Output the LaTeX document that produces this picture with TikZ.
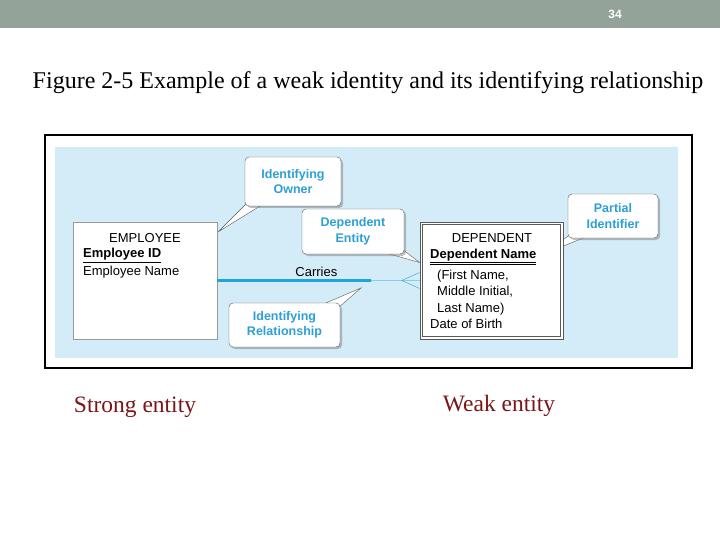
\documentclass[tikz,border=0pt]{standalone}
\usepackage{fontspec}
\setmainfont{Liberation Serif}
\setsansfont{Liberation Sans}
\usetikzlibrary{positioning,calc,shadows,backgrounds}

\definecolor{barcol}{HTML}{93A399}
\definecolor{skyfill}{HTML}{D4ECF8}
\definecolor{noteblue}{HTML}{2C9FD6}
\definecolor{linkblue}{HTML}{1EA6DB}
\definecolor{labelred}{HTML}{7A1518}

\begin{document}
\begin{tikzpicture}[
    x=1pt, y=-1pt,
    entity/.style={rectangle, draw=gray!80, fill=white, minimum width=144pt, minimum height=117pt, inner sep=0pt},
    attr/.style={font=\sffamily\fontsize{13}{16}\selectfont, inner sep=0pt},
    callout/.style={rectangle, rounded corners=4pt, draw=gray!70!black, fill=white, drop shadow={opacity=0.5, shadow xshift=2pt, shadow yshift=-2pt}, align=center, font=\sffamily\bfseries\fontsize{12.5}{15.5}\selectfont, text=noteblue, inner sep=0pt},
    tail/.style={draw=gray!70!black, fill=white},
    caption/.style={font=\fontsize{23.5}{27}\selectfont, text=labelred}
]
    \useasboundingbox (0,0) rectangle (720,540);

    % Slide header
    \fill[barcol] (0,0) rectangle (720,28);
    \node[text=white, font=\sffamily\bfseries\fontsize{12}{14}\selectfont] (page) at (615,14) {34};
    \node[font=\fontsize{24}{28}\selectfont] (title) at (368,83) {Figure 2-5 Example of a weak identity and its identifying relationship};

    % Frame and blue area
    \begin{scope}[on background layer]
        \draw[line width=1.8pt] (45,135) rectangle (692,368);
        \fill[skyfill] (55,147) rectangle (678,358);
    \end{scope}

    % Entities
    \node[entity] (emp) at (145,280.5) {};
    \node[attr, anchor=base] (empname) at (145,242) {EMPLOYEE};
    \node[attr, anchor=base west] (empid) at (83,258) {\underline{\textbf{Employee ID}}};
    \node[attr, anchor=base west] (empnm) at (83,275) {Employee Name};

    \node[entity, draw=gray!70!black, line width=0.7pt, minimum width=143pt] (dep) at (491.5,280.5) {};
    \draw[gray!70!black, line width=0.7pt] ($(dep.north west)+(3,3)$) rectangle ($(dep.south east)+(-3,-3)$);
    \node[attr, anchor=base] (depname) at (492,242) {DEPENDENT};
    \node[attr, anchor=base west] (depid) at (430,258.5) {\underline{\underline{\textbf{Dependent Name}}}};
    \node[attr, anchor=base west] (depfirst) at (437,279) {(First Name,};
    \node[attr, anchor=base west] (depmiddle) at (437,295) {Middle Initial,};
    \node[attr, anchor=base west] (deplast) at (437,312) {Last Name)};
    \node[attr, anchor=base west] (depdob) at (430,328) {Date of Birth};

    % Identifying relationship
    \draw[linkblue!55, line width=1.3pt] (emp.east) -- node[pos=0.49, above=3pt, text=black, attr] (carries) {Carries} (dep.west);
    \draw[linkblue, line width=2.6pt] (emp.east) -- ($(emp.east)!0.76!(dep.west)$) coordinate (thickend);
    \draw[linkblue, thin] ($(dep.west)+(-18,0)$) -- ($(dep.west)+(0,-8)$);
    \draw[linkblue, thin] ($(dep.west)+(-18,0)$) -- ($(dep.west)+(0,8)$);

    % Callouts
    \node[callout, minimum width=96pt, minimum height=49pt] (owner) at (293,181.5) {Identifying\\Owner};
    \node[callout, minimum width=102pt, minimum height=45pt] (depent) at (353,231.5) {Dependent\\Entity};
    \node[callout, minimum width=111pt, minimum height=44pt] (identrel) at (284.5,325) {Identifying\\Relationship};
    \node[callout, minimum width=90pt, minimum height=44pt] (partial) at (613,216) {Partial\\Identifier};

    \coordinate (ownertip) at ($(emp.north east)+(1,10)$);
    \coordinate (deptip) at ($(dep.west)+(0,-18)$);
    \coordinate (reltip) at (361,288);
    \coordinate (partialtip) at (541,255);

    % Callout tails
    \begin{scope}[on background layer]
        \draw[tail] ($(owner.south west)+(3,-4)$) -- (ownertip) -- ($(owner.south west)+(15,0)$) -- cycle;
        \draw[tail] ($(depent.south east)+(-14,0)$) -- (deptip) -- ($(depent.south east)+(-2,-5)$) -- cycle;
        \draw[tail] ($(identrel.north east)+(-14,0)$) -- (reltip) -- ($(identrel.north east)+(-2,5)$) -- cycle;
        \draw[tail] ($(partial.south west)+(3,-4)$) -- (partialtip) -- ($(partial.south west)+(15,0)$) -- cycle;
    \end{scope}

    % Captions
    \node[caption] (strong) at (135,407) {Strong entity};
    \node[caption] (weak) at (499,406) {Weak entity};
\end{tikzpicture}
\end{document}
